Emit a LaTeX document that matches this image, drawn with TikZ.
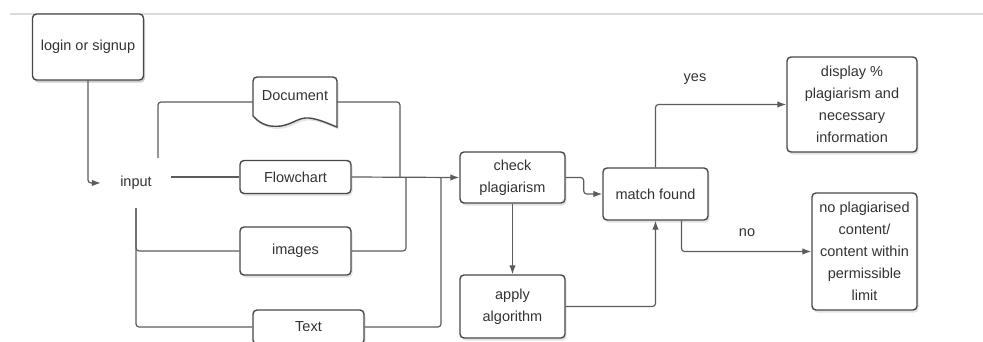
\documentclass[tikz,border=0pt]{standalone}
\usepackage{fontspec}
\setmainfont{Liberation Sans}
\usepackage{xcolor}
\usepackage{tikz}
\usetikzlibrary{arrows.meta,shadows}
\usetikzlibrary{calc,positioning}

\definecolor{linegray}{HTML}{5C5C5C}
\definecolor{boxgray}{HTML}{484848}
\definecolor{textgray}{HTML}{333333}

\begin{document}
\begin{tikzpicture}[x=1pt, y=-1pt, >={Latex[length=9pt,width=6.5pt]},
    every node/.style={font=\fontsize{14.5}{22}\selectfont, text=textgray},
    box/.style={draw=boxgray, line width=1.4pt, rounded corners=4pt, fill=white,
      align=center, inner sep=2pt,
      drop shadow={shadow xshift=1.5pt, shadow yshift=-2.5pt, opacity=#1}},
    box/.default=0.22,
    conn/.style={draw=linegray, line width=1.2pt, rounded corners=3pt}]

    \useasboundingbox (0,0) rectangle (983,341);

    % Top rule
    \draw[black!14, line width=1.2pt] (10,14) -- (983,14);

    % Start
    \node[box=0.4, minimum width=111pt, minimum height=66pt] (login) at (88,47) {login or signup};
    \node[minimum width=70pt, minimum height=50pt] (input) at (136,183) {input};

    % Document shape
    \coordinate (docpos) at (295,102);
    \draw[draw=boxgray, line width=1.4pt, fill=white,
      drop shadow={shadow xshift=1.5pt, shadow yshift=-2.5pt, opacity=0.22}]
      ($(docpos)+(42,25)$) [rounded corners=4pt] -- ($(docpos)+(42,-25)$)
      -- ($(docpos)+(-42,-25)$) [sharp corners] -- ($(docpos)+(-42,14)$)
      .. controls ($(docpos)+(-33,24)$) and ($(docpos)+(-24,25)$) .. ($(docpos)+(-14,24)$)
      .. controls ($(docpos)+(-2,22)$) and ($(docpos)+(4,15)$) .. ($(docpos)+(14,16)$)
      .. controls ($(docpos)+(24,17)$) and ($(docpos)+(34,22)$) .. ($(docpos)+(42,25)$)
      -- cycle;
    \node[minimum width=84pt, minimum height=50pt, text depth=12pt] (doc) at (docpos) {Document};

    % Input kinds
    \node[box, minimum width=111pt, minimum height=33pt] (flow) at (295.5,177) {Flowchart};
    \node[box, minimum width=111pt, minimum height=48pt] (img) at (295.5,251) {images};
    \node[box, minimum width=111pt, minimum height=34pt] (txt) at (308.5,327) {Text};

    % Checking
    \node[box, minimum width=105pt, minimum height=51pt] (check) at (512.5,177.5) {check\\plagiarism};
    \node[box, minimum width=105pt, minimum height=63pt] (apply) at (512.5,306.5) {apply\\algorithm};
    \node[box, minimum width=105pt, minimum height=52pt] (match) at (655.5,194) {match found};

    % Results
    \node[box, minimum width=130pt, minimum height=95pt] (display) at (852,104.5)
      {display \%\\plagiarism and\\necessary\\information};
    \node[box, minimum width=105pt, minimum height=117pt] (nopl) at (864.5,251.5)
      {no plagiarised\\content/\\content within\\permissible\\limit};

    \node (yes) at (695,79) {yes};
    \node (no) at (747,233) {no};

    % Into input
    \draw[conn, ->] (login.south) |- (input.west);
    \draw[conn] ($(input.north)+(22,0)$) |- (doc.west);
    \draw[conn] (input.east |- flow.west) -- (flow.west);
    \draw[conn] (input.south) |- (img.west);
    \draw[conn] (input.south) |- (txt.west);

    % Gather into check
    \coordinate (jdoc) at (400,177);
    \coordinate (jimg) at (406,177);
    \coordinate (jtxt) at (441,177);
    \draw[conn] (doc.east) -| (jdoc);
    \draw[conn] (img.east) -| (jimg);
    \draw[conn] (txt.east) -| (jtxt);
    \draw[conn, ->] (flow.east) -- (check.west);

    % Decision
    \draw[conn, ->] (check.east) -- ++(18,0) |- (match.west);
    \draw[conn, ->] (check.south) -- (apply.north);
    \draw[conn, ->] (apply.east) -| (match.south);
    \draw[conn, ->] (match.north) |- (display.west);
    \draw[conn, ->] ($(match.south)+(26,0)$) |- (nopl.west);

\end{tikzpicture}
\end{document}
